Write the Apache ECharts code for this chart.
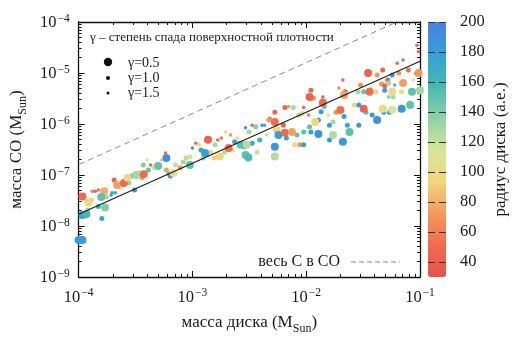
<!DOCTYPE html>
<html>
<head>
<meta charset="utf-8">
<script src="https://cdn.jsdelivr.net/npm/echarts@6/dist/echarts.min.js"></script>
<style>
html, body { margin: 0; padding: 0; background: #fff; }
#chart { width: 525px; height: 350px; }
</style>
</head>
<body>
<div id="chart"></div>
<script>
// disk mass (M_Sun), CO mass (M_Sun), disk radius (au), gamma index
var diskMass = [
    1.0e-4, 1.08e-4, 1.08e-4, 1.17e-4, 1.2e-4, 1.08e-4, 1.22e-4, 1.3e-4, 1.32e-4, 1.4e-4,
    1.49e-4, 1.68e-4, 1.58e-4, 1.75e-4, 1.93e-4, 1.71e-4, 1.49e-4, 1.6e-4, 2.05e-4, 2.18e-4,
    2.5e-4, 2.77e-4, 3.2e-4, 1.97e-4, 2.1e-4, 3.1e-4, 2.35e-4, 2.7e-4, 2.95e-4, 3.3e-4,
    3.4e-4, 3.73e-4, 3.6e-4, 4.1e-4, 4.3e-4, 4.6e-4, 4.8e-4, 5.0e-4, 5.8e-4, 5.9e-4,
    5.9e-4, 6.2e-4, 6.4e-4, 6.8e-4, 7.1e-4, 7.8e-4, 8.3e-4, 8.8e-4, 9.5e-4, 9.5e-4,
    5.35e-4, 4.0e-4, 3.7e-4, 1.0e-3, 1.07e-3, 1.19e-3, 1.29e-3, 1.37e-3, 1.42e-3, 1.45e-3,
    1.58e-3, 1.67e-3, 1.8e-3, 1.74e-3, 1.92e-3, 2.08e-3, 2.25e-3, 2.35e-3, 2.5e-3, 2.65e-3,
    2.85e-3, 2.93e-3, 2.93e-3, 2.16e-3, 1.96e-3, 1.35e-3, 1.15e-3, 1.24e-3, 1.55e-3, 3.15e-3,
    3.35e-3, 3.6e-3, 3.0e-3, 3.1e-3, 3.35e-3, 3.7e-3, 4.1e-3, 4.3e-3, 4.7e-3, 4.8e-3,
    5.3e-3, 5.3e-3, 5.5e-3, 5.7e-3, 5.3e-3, 5.3e-3, 6.3e-3, 6.5e-3, 6.7e-3, 6.5e-3,
    7.0e-3, 7.7e-3, 7.5e-3, 7.9e-3, 8.3e-3, 8.6e-3, 3.9e-3, 4.5e-3, 9.5e-3, 9.2e-3,
    1.1e-2, 1.07e-2, 1.16e-2, 1.4e-2, 1.4e-2, 1.44e-2, 1.35e-2, 1.28e-2, 1.2e-2, 1.07e-2,
    9.5e-3, 1.1e-2, 1.28e-2, 8.8e-3, 9.5e-3, 1.6e-2, 1.72e-2, 1.6e-2, 1.72e-2, 1.83e-2,
    2.0e-2, 1.94e-2, 2.1e-2, 2.2e-2, 2.15e-2, 2.15e-2, 2.3e-2, 2.4e-2, 2.1e-2, 2.85e-2,
    2.65e-2, 2.9e-2, 1.05e-2, 1.56e-2, 3.5e-2, 4.2e-2, 4.7e-2, 4.6e-2, 4.9e-2, 5.2e-2,
    5.3e-2, 5.7e-2, 6.3e-2, 7.1e-2, 6.5e-2, 7.1e-2, 6.9e-2, 5.7e-2, 5.8e-2, 4.9e-2,
    4.1e-2, 3.6e-2, 3.2e-2, 8.5e-2, 1.0e-1, 9.7e-2, 9.7e-2, 9.4e-2, 5.7e-2, 4.7e-2,
    3.2e-2, 3.35e-2, 3.8e-2, 4.8e-2, 6.9e-2, 8.2e-2, 4.2e-2, 2.9e-2, 5.4e-2, 6.0e-2,
    3.0e-2, 3.7e-2, 7.9e-2, 8.7e-2, 5.3e-2
];
var coMass = [
    5.3e-9, 5.3e-9, 1.64e-8, 1.7e-8, 2.06e-8, 3.8e-8, 2.9e-8, 3.24e-8, 4.8e-8, 4.8e-8,
    5.1e-8, 4.8e-8, 3.7e-8, 3.7e-8, 4.07e-8, 2.3e-8, 2.4e-8, 1.4e-8, 8.0e-8, 6.4e-8,
    7.0e-8, 7.0e-8, 1.0e-7, 4.5e-8, 4.5e-8, 5.1e-8, 5.8e-8, 8.8e-8, 9.6e-8, 1.05e-7,
    1.12e-7, 1.03e-7, 8.8e-8, 1.25e-7, 1.57e-7, 1.4e-7, 1.57e-7, 1.5e-7, 2.7e-7, 2.16e-7,
    1.25e-7, 1.06e-7, 9.6e-8, 1.1e-7, 1.57e-7, 1.38e-7, 1.8e-7, 2.16e-7, 2.26e-7, 1.57e-7,
    1.97e-7, 1.97e-7, 1.57e-7, 3.4e-7, 4.2e-7, 3.1e-7, 2.7e-7, 4.9e-7, 5.3e-7, 2.8e-7,
    3.9e-7, 4.85e-7, 5.3e-7, 2.3e-7, 2.8e-7, 3.4e-7, 3.1e-7, 4.5e-7, 5.3e-7, 3.9e-7,
    3.6e-7, 2.47e-7, 8.4e-7, 6.1e-7, 7.0e-7, 2.5e-7, 3.9e-7, 2.16e-7, 2.16e-7, 7.0e-7,
    9.5e-7, 8.8e-7, 3.9e-7, 2.2e-7, 4.2e-7, 2.8e-7, 9.5e-7, 9.5e-7, 1.2e-6, 1.3e-6,
    1.7e-6, 1.1e-6, 7.6e-7, 6.1e-7, 3.6e-7, 2.3e-7, 9.5e-7, 6.7e-7, 5.3e-7, 2.1e-6,
    2.2e-6, 2.1e-6, 7.0e-7, 3.9e-7, 6.1e-7, 1.5e-6, 4.85e-7, 6.1e-7, 2.1e-6, 1.6e-6,
    4.6e-6, 3.4e-6, 3.2e-6, 2.6e-6, 3.4e-6, 2.2e-6, 1.74e-6, 1.2e-6, 1.1e-6, 8.8e-7,
    7.0e-7, 7.0e-7, 6.4e-7, 3.9e-7, 3.9e-7, 4.85e-7, 6.1e-7, 9.5e-7, 1.1e-6, 1.7e-6,
    1.88e-6, 5.1e-6, 7.3e-6, 4.3e-6, 3.7e-6, 1.4e-6, 9.5e-7, 7.0e-7, 4.5e-7, 4.3e-6,
    2.36e-6, 2.36e-6, 1.5e-6, 1.5e-6, 1.0e-5, 9.1e-6, 1.15e-5, 6.1e-6, 5.6e-6, 7.3e-6,
    6.4e-6, 9.1e-6, 1.56e-5, 1.8e-5, 1.0e-5, 6.4e-6, 4.3e-6, 4.3e-6, 3.4e-6, 4.6e-6,
    4.3e-6, 4.3e-6, 4.3e-6, 4.3e-6, 4.6e-6, 1.0e-5, 2.6e-5, 3.5e-5, 1.9e-6, 2.0e-6,
    2.0e-6, 1.7e-6, 1.5e-6, 1.7e-6, 2.0e-6, 2.36e-6, 1.2e-6, 9.5e-7, 1.7e-6, 5.8e-6,
    5.8e-6, 5.1e-6, 1.15e-5, 7.3e-6, 3.4e-6
];
var diskRadius = [
    185, 180, 175, 160, 130, 50, 95, 100, 60, 45,
    55, 80, 150, 130, 180, 140, 170, 175, 45, 75,
    50, 135, 130, 175, 170, 185, 110, 100, 150, 160,
    100, 50, 75, 150, 45, 100, 175, 150, 45, 190,
    75, 150, 185, 100, 120, 70, 130, 125, 100, 150,
    90, 110, 140, 180, 45, 175, 180, 45, 70, 100,
    130, 45, 55, 95, 125, 50, 100, 180, 100, 150,
    160, 150, 185, 70, 100, 95, 100, 130, 90, 130,
    45, 140, 125, 155, 180, 120, 180, 175, 70, 45,
    45, 50, 95, 180, 185, 125, 45, 50, 175, 45,
    70, 130, 75, 100, 150, 125, 165, 120, 45, 100,
    45, 45, 70, 50, 45, 150, 185, 180, 95, 150,
    150, 180, 185, 70, 180, 180, 125, 180, 130, 70,
    50, 70, 45, 45, 75, 180, 175, 150, 185, 130,
    100, 180, 60, 100, 45, 70, 45, 70, 45, 45,
    130, 185, 45, 45, 70, 75, 100, 100, 130, 180,
    100, 50, 150, 150, 130, 70, 45, 45, 115, 100,
    45, 150, 180, 180, 185, 150, 185, 185, 185, 160,
    70, 100, 55, 110, 140
];
var gamma = [
    0.5, 0.5, 0.5, 0.5, 1.0, 0.5, 0.5, 1.0, 1.5, 1.5,
    1.5, 0.5, 0.5, 1.0, 1.5, 0.5, 1.0, 1.0, 1.0, 0.5,
    0.5, 1.0, 0.5, 1.5, 1.5, 1.0, 1.0, 0.5, 1.0, 1.0,
    1.0, 0.5, 1.0, 1.0, 1.5, 1.0, 1.5, 0.5, 1.5, 0.5,
    1.0, 1.0, 1.0, 0.5, 1.0, 1.0, 1.0, 1.0, 1.0, 0.5,
    1.5, 1.5, 1.0, 1.5, 1.5, 1.0, 0.5, 0.5, 1.5, 1.0,
    1.0, 1.5, 1.5, 0.5, 1.0, 0.5, 1.0, 1.0, 1.5, 0.5,
    1.0, 0.5, 1.5, 1.5, 1.5, 1.0, 1.5, 1.0, 1.0, 1.0,
    1.5, 1.0, 0.5, 0.5, 1.0, 1.0, 1.5, 1.5, 1.0, 1.5,
    1.0, 0.5, 0.5, 0.5, 0.5, 0.5, 1.0, 0.5, 1.0, 1.0,
    1.5, 1.0, 0.5, 1.0, 1.0, 1.0, 1.0, 1.5, 1.5, 1.0,
    1.0, 0.5, 1.0, 0.5, 1.5, 1.0, 1.0, 1.0, 0.5, 1.0,
    1.0, 1.0, 0.5, 1.0, 1.0, 1.0, 0.5, 1.0, 1.0, 1.0,
    0.5, 1.5, 1.5, 1.0, 0.5, 1.0, 1.0, 0.5, 0.5, 1.0,
    1.0, 1.0, 1.5, 1.5, 0.5, 1.0, 1.0, 1.0, 1.0, 1.0,
    1.0, 1.0, 1.5, 1.5, 1.0, 0.5, 1.0, 0.5, 1.0, 1.0,
    1.0, 0.5, 1.0, 0.5, 0.5, 0.5, 1.5, 1.5, 0.5, 0.5,
    0.5, 1.0, 1.0, 1.0, 0.5, 0.5, 0.5, 1.0, 1.0, 1.5,
    1.0, 1.5, 1.0, 1.5, 1.5
];
var gammaLevels = [0.5, 1.0, 1.5];
var gammaLabels = ['γ=0.5', 'γ=1.0', 'γ=1.5'];

// fitted relation and the "all carbon in CO" limit
var fitLine = [[1e-4, 1.7e-8], [1e-1, 1.7e-5]];
var allCarbonLine = [[1e-4, 1.6e-7], [6.25e-2, 1e-4]];

var radiusTicks = [40, 60, 80, 100, 120, 140, 160, 180, 200];

var serif = 'Liberation Serif';
var txt = '#1a1a1a';

function minorTicks(lo, hi) {
    var out = [];
    for (var d = lo; d < hi; d++) {
        for (var m = 2; m <= 9; m++) out.push(m * Math.pow(10, d));
    }
    return out;
}

function powLabel(v) {
    var e = Math.round(Math.log(v) / Math.LN10);
    return '{b|10}{e|' + (e < 0 ? '\u2212' + (-e) : e) + '}';
}

var powRich = {
    b: { fontFamily: serif, fontSize: 16.5, color: txt, verticalAlign: 'bottom' },
    e: { fontFamily: serif, fontSize: 11.5, color: txt, verticalAlign: 'bottom', padding: [0, 0, 7, 1] }
};
var nameRich = {
    a: { fontFamily: serif, fontSize: 17, color: txt, verticalAlign: 'bottom', padding: [0, 0, 4, 0] },
    s: { fontFamily: serif, fontSize: 12, color: txt, verticalAlign: 'bottom' }
};

var axisLine = { lineStyle: { color: '#111', width: 1.3 } };

function logAxis(pos, min, max, opts) {
    var a = {
        type: 'log', logBase: 10, position: pos, min: min, max: max, gridIndex: 0,
        axisLine: axisLine,
        axisTick: { show: true, inside: true, length: 6, lineStyle: { color: '#111' } },
        axisLabel: { show: false },
        splitLine: { show: false }
    };
    for (var k in opts) a[k] = opts[k];
    return a;
}

var xMinor = minorTicks(-4, -1);
var yMinor = minorTicks(-9, -4);

var scatterSeries = gammaLevels.map(function (g, gi) {
    var pts = [];
    for (var i = 0; i < diskMass.length; i++) {
        if (gamma[i] === g) pts.push([diskMass[i], coMass[i], diskRadius[i]]);
    }
    return {
        name: gammaLabels[gi],
        type: 'scatter',
        xAxisIndex: 0,
        yAxisIndex: 0,
        symbolSize: [8, 5, 3.5][gi],
        data: pts,
        itemStyle: { opacity: 1 },
        z: 3 - gi
    };
});

var myChart = echarts.init(document.getElementById('chart'));

var option = {
    animation: false,
    backgroundColor: '#fff',
    grid: [
        { left: 74, right: 105, top: 22, bottom: 73 },
        { left: 428, width: 18, top: 22, height: 255 }
    ],
    xAxis: [
        logAxis('bottom', 1e-4, 1e-1, {
            axisLabel: { show: true, margin: 10, formatter: powLabel, rich: powRich },
            name: '{a|масса диска (M}{s|Sun}{a|)}',
            nameLocation: 'middle',
            nameGap: 37,
            nameTextStyle: { rich: nameRich }
        }),
        logAxis('top', 1e-4, 1e-1, {}),
        logAxis('bottom', 1e-4, 1e-1, {
            axisLine: { show: false },
            axisTick: { show: true, inside: true, length: 3, customValues: xMinor, lineStyle: { color: '#111' } }
        }),
        logAxis('top', 1e-4, 1e-1, {
            axisLine: { show: false },
            axisTick: { show: true, inside: true, length: 3, customValues: xMinor, lineStyle: { color: '#111' } }
        }),
        { type: 'value', gridIndex: 1, show: false, min: 0, max: 1 }
    ],
    yAxis: [
        logAxis('left', 1e-9, 1e-4, {
            axisLabel: { show: true, margin: 9, formatter: powLabel, rich: powRich },
            name: '{a|масса CO (M}{s|Sun}{a|)}',
            nameLocation: 'middle',
            nameRotate: 90,
            nameGap: 46,
            nameTextStyle: { rich: nameRich }
        }),
        logAxis('right', 1e-9, 1e-4, {}),
        logAxis('left', 1e-9, 1e-4, {
            axisLine: { show: false },
            axisTick: { show: true, inside: true, length: 3, customValues: yMinor, lineStyle: { color: '#111' } }
        }),
        logAxis('right', 1e-9, 1e-4, {
            axisLine: { show: false },
            axisTick: { show: true, inside: true, length: 3, customValues: yMinor, lineStyle: { color: '#111' } }
        }),
        {
            type: 'value', gridIndex: 1, position: 'right', min: 30, max: 200,
            axisLine: { show: false },
            splitLine: { show: false },
            axisTick: { show: false },
            axisLabel: {
                show: true, margin: 14, customValues: radiusTicks,
                fontFamily: serif, fontSize: 16.5, color: txt
            },
            name: 'радиус диска (а.е.)',
            nameLocation: 'middle',
            nameRotate: 90,
            nameGap: 46,
            nameTextStyle: { fontFamily: serif, fontSize: 17, color: txt }
        }
    ],
    visualMap: {
        type: 'continuous',
        min: 30,
        max: 200,
        dimension: 2,
        seriesIndex: [0, 1, 2],
        left: 428,
        top: 22,
        itemWidth: 18,
        itemHeight: 255,
        padding: 0,
        z: 0,
        calculable: false,
        hoverLink: false,
        text: null,
        inRange: {
            color: ['#e8524b', '#ee6c50', '#f39a5c', '#f3d57f', '#d3e69b', '#8dd2a6', '#44bab1', '#37a0d4', '#4b7fe6']
        }
    },
    series: scatterSeries.concat([
        {
            name: 'fit',
            type: 'line',
            xAxisIndex: 0,
            yAxisIndex: 0,
            data: fitLine,
            symbol: 'none',
            silent: true,
            lineStyle: { color: '#1a1a1a', width: 1.1 },
            z: 5
        },
        {
            name: 'весь C в CO',
            type: 'line',
            xAxisIndex: 0,
            yAxisIndex: 0,
            data: allCarbonLine,
            symbol: 'none',
            silent: true,
            lineStyle: { color: '#8a8a8a', width: 1, type: [6, 4] },
            z: 5
        },
        {
            // tick dashes across the colour bar
            name: 'colorbar ticks',
            type: 'scatter',
            xAxisIndex: 4,
            yAxisIndex: 4,
            data: [],
            silent: true,
            z: 10,
            markLine: {
                silent: true,
                symbol: 'none',
                label: { show: false },
                lineStyle: { color: '#333', width: 1.2, type: [7, 4] },
                data: radiusTicks.map(function (t) { return { yAxis: t }; })
            }
        }
    ]),
    graphic: [
        { type: 'text', x: 90, y: 38, style: { text: 'γ – степень спада поверхностной плотности', font: '13px "Liberation Serif"', fill: txt, verticalAlign: 'middle' } },
        { type: 'circle', shape: { cx: 108, cy: 62, r: 4.2 }, style: { fill: '#111' } },
        { type: 'circle', shape: { cx: 108, cy: 78, r: 2 }, style: { fill: '#111' } },
        { type: 'circle', shape: { cx: 108, cy: 93, r: 1.5 }, style: { fill: '#111' } },
        { type: 'text', x: 128, y: 63, style: { text: gammaLabels[0], font: '14px "Liberation Serif"', fill: txt, verticalAlign: 'middle' } },
        { type: 'text', x: 128, y: 78, style: { text: gammaLabels[1], font: '14px "Liberation Serif"', fill: txt, verticalAlign: 'middle' } },
        { type: 'text', x: 128, y: 93, style: { text: gammaLabels[2], font: '14px "Liberation Serif"', fill: txt, verticalAlign: 'middle' } },
        { type: 'text', x: 340, y: 262, style: { text: 'весь C в CO', font: '16px "Liberation Serif"', fill: txt, align: 'right', verticalAlign: 'middle' } },
        { type: 'line', shape: { x1: 351, y1: 262, x2: 400, y2: 262 }, style: { stroke: '#8a8a8a', lineWidth: 1, lineDash: [5, 3] } }
    ]
};

myChart.setOption(option);
</script>
</body>
</html>
